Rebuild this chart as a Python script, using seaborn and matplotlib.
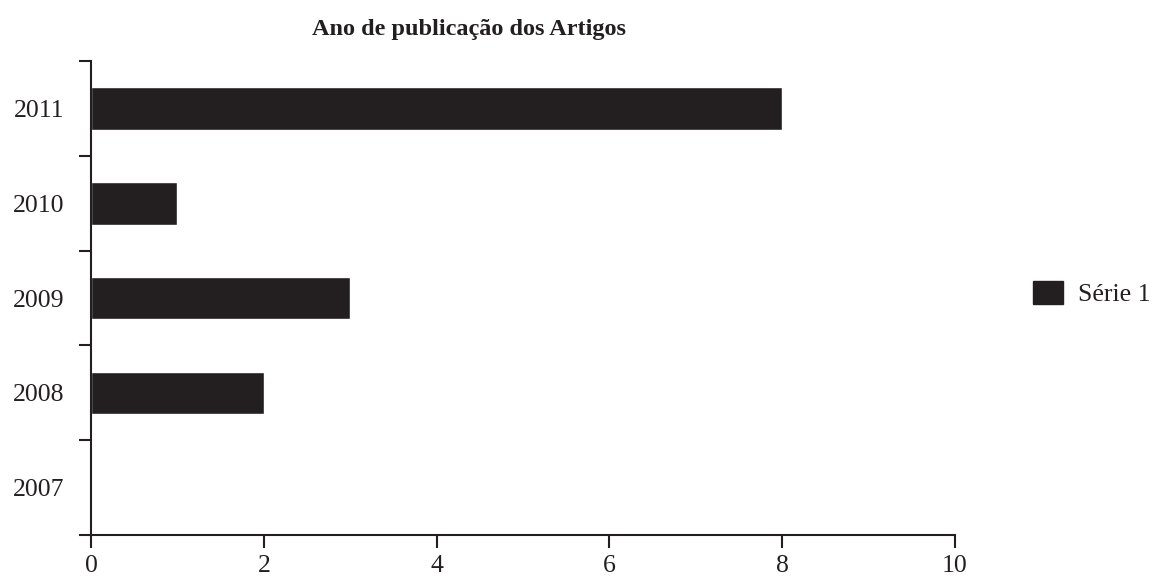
import pandas as pd
import matplotlib.pyplot as plt
import seaborn as sns
from matplotlib.patches import Patch

# Data
years = ["2011", "2010", "2009", "2008", "2007"]
counts = [8, 1, 3, 2, 0]
series_name = "Série 1"

df = pd.DataFrame({"ano": years, "artigos": counts})

sns.set_style("white")
plt.rcParams["font.family"] = ["Liberation Serif", "DejaVu Serif"]

fig = plt.figure(figsize=(11.53, 5.76), dpi=100)
ax = fig.add_axes([0.079, 0.071, 0.7493, 0.823])

bar_color = "#231f20"
sns.barplot(data=df, x="artigos", y="ano", order=years, orient="h",
            color=bar_color, width=0.45, saturation=1, ax=ax)

ax.set_xlim(0, 10)
ax.set_ylim(4.5, -0.5)
ax.set_xticks([0, 2, 4, 6, 8, 10])
ax.tick_params(axis="x", direction="out", length=9, width=1.5, colors="#231f20",
               labelsize=18.5, pad=5, bottom=True)

# category boundaries as major ticks, labels on minor ticks
ax.set_yticks([i - 0.5 for i in range(len(years) + 1)])
ax.set_yticklabels([])
ax.set_yticks(range(len(years)), minor=True)
ax.set_yticklabels(years, minor=True)
ax.tick_params(axis="y", which="major", direction="out", length=9, width=1.5,
               colors="#231f20", left=True)
ax.tick_params(axis="y", which="minor", length=0, labelsize=18.5, pad=19,
               labelcolor="#231f20")

ax.set_xlabel("")
ax.set_ylabel("")
for s in ["top", "right"]:
    ax.spines[s].set_visible(False)
for s in ["left", "bottom"]:
    ax.spines[s].set_color("#231f20")
    ax.spines[s].set_linewidth(1.5)

fig.text(0.407, 0.948, "Ano de publicação dos Artigos", fontsize=17.5,
         fontweight="bold", color="#231f20", ha="center", va="center")

handle = Patch(facecolor=bar_color, edgecolor=bar_color, label=series_name)
leg = fig.legend(handles=[handle], loc="center left", bbox_to_anchor=(0.876, 0.49),
                 frameon=False, fontsize=18.5, handlelength=1.15, handleheight=1.0,
                 handletextpad=0.6)
for t in leg.get_texts():
    t.set_color("#231f20")

plt.savefig("out.png", dpi=100)
